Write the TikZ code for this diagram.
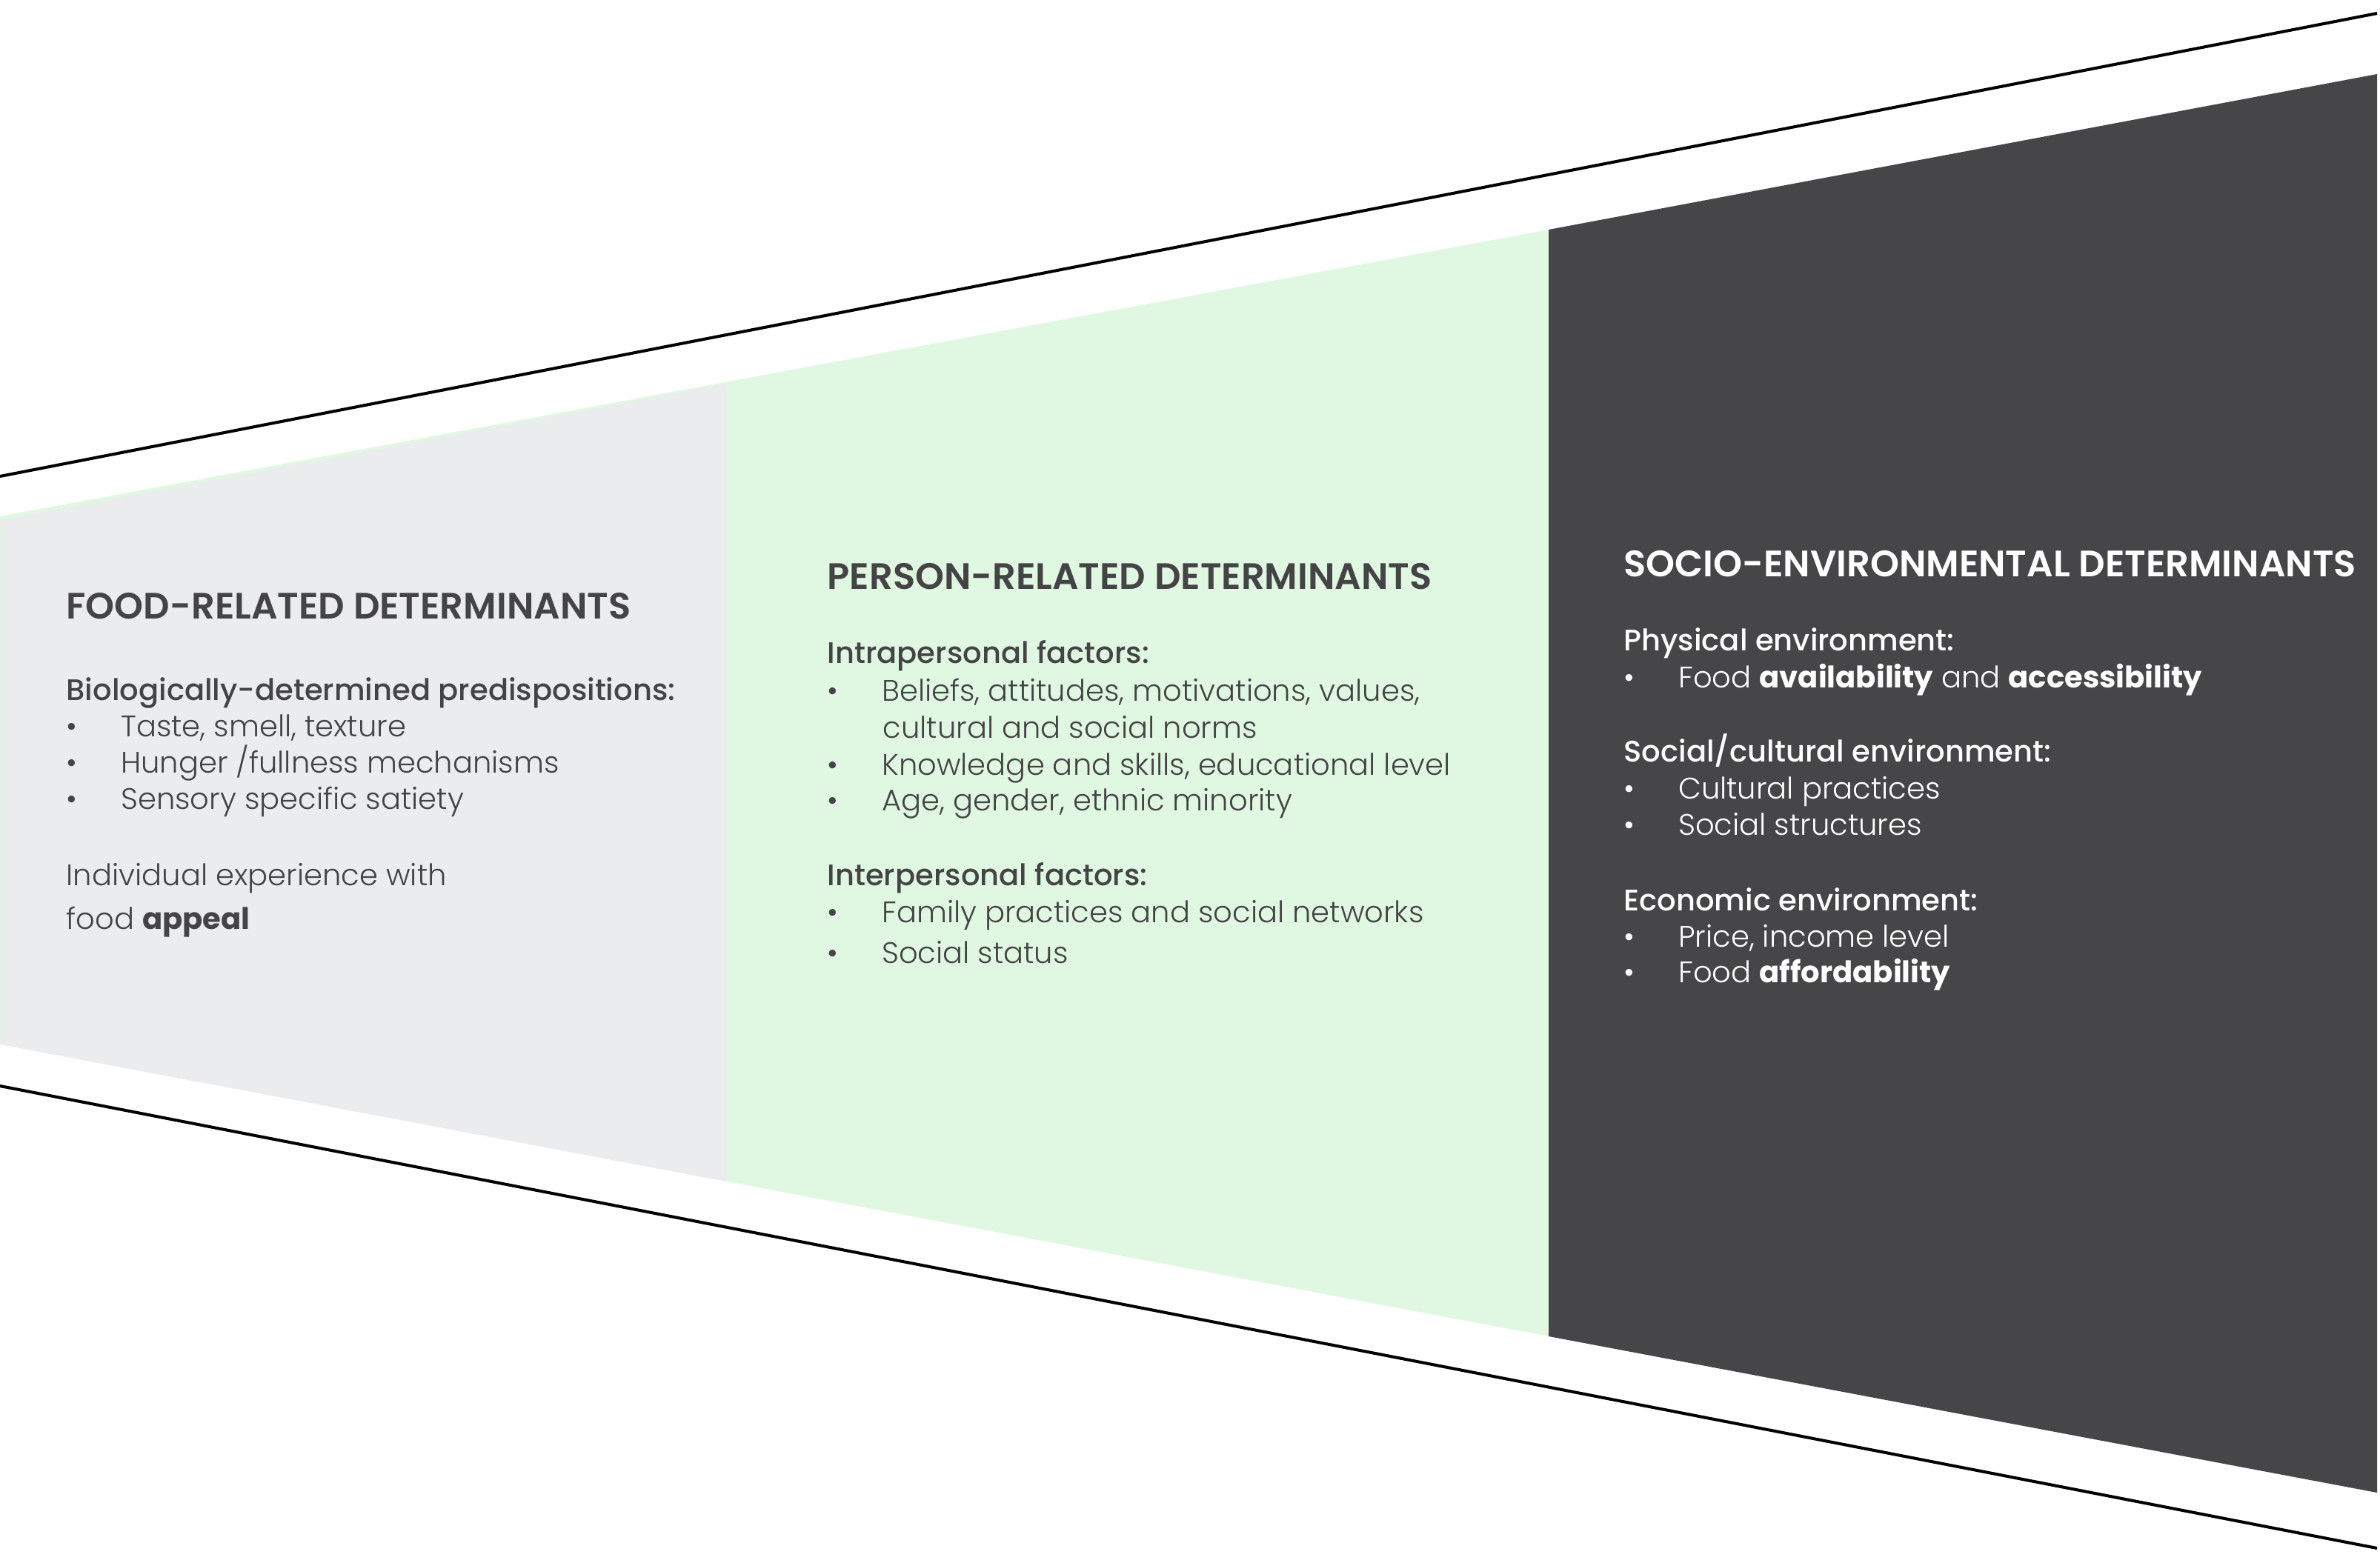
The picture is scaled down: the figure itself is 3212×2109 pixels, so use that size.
\documentclass[tikz,border=0pt]{standalone}
\usepackage{fontspec}
\setmainfont{Poppins Light}[BoldFont=Poppins Bold]
\newfontfamily\medfont{Poppins Medium}
\newfontfamily\semifont{Poppins SemiBold}
\definecolor{foodGray}{HTML}{EBECEE}
\definecolor{personGreen}{HTML}{E0F8E2}
\definecolor{socioDark}{HTML}{464648}
\definecolor{inkDark}{HTML}{444446}
\newcommand{\bul}{\makebox[0.735cm][l]{\textbullet}}
\tikzset{
  coltitle/.style={anchor=base west, inner sep=0pt, font=\semifont\fontsize{14.1}{14.1}\selectfont},
  colhead/.style={anchor=base west, inner sep=0pt, font=\medfont\fontsize{11.4}{11.4}\selectfont},
  colitem/.style={anchor=base west, inner sep=0pt, font=\fontsize{11.4}{11.4}\selectfont},
  rim/.style={draw=black, line width=1.15pt}
}

\begin{document}
\begin{tikzpicture}[x=0.01cm, y=-0.01cm]
  \useasboundingbox (0,0) rectangle (3212,2109);
  % the three bands (green runs on under the grey one)
  \fill[personGreen] (0,697) -- (2090,310) -- (2090,1804) -- (0,1410) -- cycle;
  \fill[foodGray] (1,702) -- (980,518) -- (980,1595) -- (1,1410) -- cycle;
  \fill[socioDark] (2090,310) -- (3208,100) -- (3208,2015) -- (2090,1804) -- cycle;
  % outer rim lines
  \coordinate (topL) at (0,643);
  \coordinate (topR) at (3208,18);
  \coordinate (botL) at (0,1466);
  \coordinate (botR) at (3208,2090);
  \draw[rim] (topL) -- (topR);
  \draw[rim] (botL) -- (botR);

  % food-related
  \begin{scope}[text=inkDark]
    \node[coltitle] (foodTitle) at (89,835) {FOOD-RELATED DETERMINANTS};
    \node[colhead] (foodBio) at (89,945) {Biologically-determined predispositions:};
    \node[colitem] (foodTaste) at (89,994) {\bul Taste, smell, texture};
    \node[colitem] (foodHunger) at (89,1043) {\bul Hunger /fullness mechanisms};
    \node[colitem] (foodSensory) at (89,1092) {\bul Sensory specific satiety};
    \node[colitem] (foodExp) at (89,1195) {Individual experience with};
    \node[colitem] (foodAppeal) at (89,1254) {food \textbf{appeal}};
  \end{scope}

  % person-related
  \begin{scope}[text=inkDark]
    \node[coltitle] (perTitle) at (1116,795) {PERSON-RELATED DETERMINANTS};
    \node[colhead] (perIntra) at (1116,895) {Intrapersonal factors:};
    \node[colitem] (perBeliefs) at (1116,946) {\bul Beliefs, attitudes, motivations, values,};
    \node[colitem] (perNorms) at (1191,996) {cultural and social norms};
    \node[colitem] (perSkills) at (1116,1046) {\bul Knowledge and skills, educational level};
    \node[colitem] (perAge) at (1116,1094) {\bul Age, gender, ethnic minority};
    \node[colhead] (perInter) at (1116,1195) {Interpersonal factors:};
    \node[colitem] (perFamily) at (1116,1245) {\bul Family practices and social networks};
    \node[colitem] (perStatus) at (1116,1300) {\bul Social status};
  \end{scope}

  % socio-environmental
  \begin{scope}[text=white]
    \node[coltitle] (socTitle) at (2191,778) {SOCIO-ENVIRONMENTAL DETERMINANTS};
    \node[colhead] (socPhys) at (2191,878) {Physical environment:};
    \node[colitem] (socAvail) at (2191,928) {\bul Food \textbf{availability} and \textbf{accessibility}};
    \node[colhead] (socCult) at (2191,1028) {Social/cultural environment:};
    \node[colitem] (socPract) at (2191,1078) {\bul Cultural practices};
    \node[colitem] (socStruct) at (2191,1127) {\bul Social structures};
    \node[colhead] (socEcon) at (2191,1229) {Economic environment:};
    \node[colitem] (socPrice) at (2191,1278) {\bul Price, income level};
    \node[colitem] (socAfford) at (2191,1326) {\bul Food \textbf{affordability}};
  \end{scope}
\end{tikzpicture}
\end{document}
